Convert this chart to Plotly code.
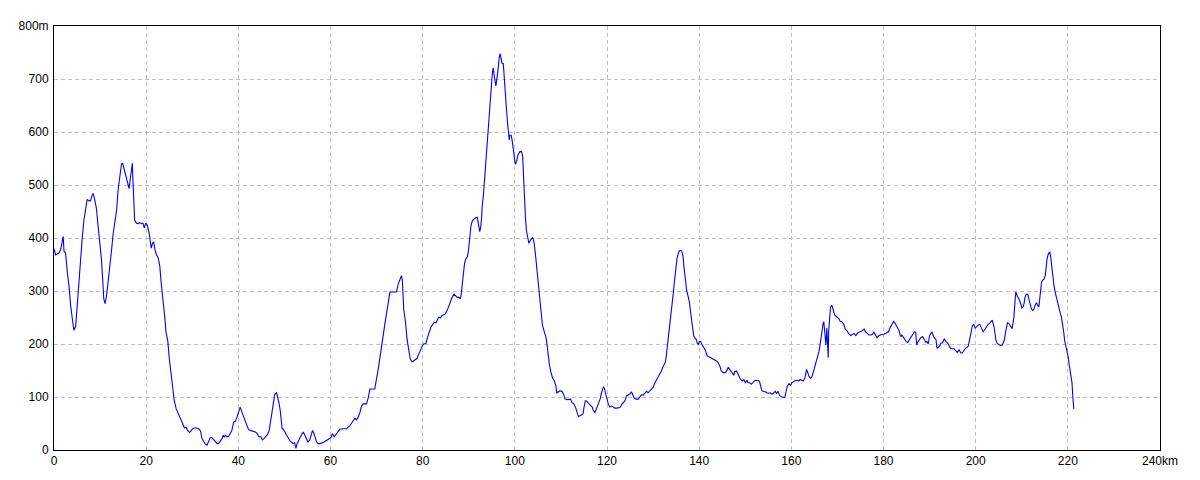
import plotly.graph_objects as go

distance_km = [
    0.0, 0.36, 1.1, 1.44, 1.8, 2.0, 2.17, 2.5, 2.9, 3.25, 3.6, 3.97, 4.3, 4.7, 5.05, 5.4, 5.8, 6.1, 6.5, 6.86,
    7.2, 7.6, 7.9, 8.3, 8.5, 8.8, 9.2, 9.5, 9.9, 10.3, 10.6, 10.8, 11.1, 11.4, 11.8, 12.1, 12.5, 12.85, 13.2, 13.6,
    13.9, 14.3, 14.65, 14.9, 15.3, 15.7, 16.0, 16.3, 16.5, 16.75, 17.0, 17.1, 17.3, 17.5, 17.9, 18.3, 18.6, 19.0, 19.3, 19.6,
    19.9, 20.2, 20.6, 20.8, 21.1, 21.4, 21.65, 21.9, 22.2, 22.6, 22.96, 23.25, 23.6, 24.0, 24.3, 24.7, 25.0, 25.4, 25.8, 26.1,
    26.5, 26.9, 27.2, 27.6, 27.9, 28.3, 28.7, 29.0, 29.4, 29.7, 30.1, 30.7, 31.4, 31.8, 32.1, 32.5, 32.85, 33.2, 33.5, 33.9,
    34.3, 34.7, 35.0, 35.4, 35.7, 36.1, 36.5, 36.7, 36.9, 37.2, 37.5, 37.9, 38.3, 38.6, 39.0, 39.35, 39.7, 40.1, 40.4, 40.8,
    41.2, 41.5, 41.9, 42.2, 42.6, 43.0, 43.3, 43.7, 44.1, 44.4, 44.9, 45.2, 45.6, 45.9, 46.3, 46.7, 47.0, 47.4, 47.7, 47.9,
    48.3, 48.5, 48.8, 49.1, 49.3, 49.5, 49.7, 50.1, 50.4, 50.8, 51.2, 51.5, 51.9, 52.2, 52.5, 52.75, 53.1, 53.5, 53.8, 54.1,
    54.4, 54.8, 55.1, 55.5, 55.9, 56.1, 56.4, 56.7, 57.0, 57.3, 57.7, 58.4, 59.1, 59.9, 60.2, 60.4, 60.8, 61.3, 61.7, 62.0,
    62.8, 63.5, 63.8, 64.2, 64.6, 64.9, 65.3, 65.65, 66.0, 66.4, 66.7, 67.1, 67.8, 68.2, 68.55, 69.6, 70.0, 70.4, 70.7, 71.1,
    71.4, 71.8, 72.2, 72.5, 72.9, 73.6, 74.3, 74.7, 75.0, 75.4, 75.6, 75.9, 76.3, 76.6, 77.0, 77.3, 77.7, 78.25, 78.8, 79.1,
    79.5, 79.85, 80.2, 80.7, 81.1, 81.45, 81.8, 82.2, 82.5, 82.9, 83.3, 83.5, 83.85, 84.2, 84.6, 84.9, 85.3, 85.7, 86.0, 86.4,
    86.8, 87.1, 87.5, 87.85, 88.2, 88.4, 88.6, 88.8, 89.1, 89.3, 89.7, 89.9, 90.0, 90.3, 90.5, 90.8, 91.1, 91.5, 91.85, 92.1,
    92.2, 92.4, 92.6, 92.8, 92.9, 93.2, 93.4, 93.6, 93.8, 94.0, 94.25, 94.5, 94.7, 94.9, 95.1, 95.3, 95.5, 95.7, 95.9, 96.1,
    96.4, 96.6, 96.8, 97.0, 97.2, 97.5, 97.7, 97.96, 98.2, 98.4, 98.6, 98.8, 98.9, 99.2, 99.4, 99.7, 100.1, 100.4, 100.7, 101.1,
    101.45, 101.7, 101.9, 102.1, 102.3, 102.5, 102.8, 103.05, 103.4, 103.7, 103.9, 104.2, 104.4, 104.6, 104.8, 105.0, 105.3, 105.5, 105.7, 106.0,
    106.4, 106.8, 107.0, 107.2, 107.5, 107.85, 108.2, 108.6, 108.9, 109.1, 109.7, 110.2, 110.6, 110.9, 111.5, 112.1, 112.4, 112.8, 113.2, 113.5,
    113.8, 114.3, 114.8, 115.0, 115.3, 115.6, 116.0, 116.4, 116.8, 117.0, 117.4, 117.8, 118.1, 118.5, 118.8, 119.2, 119.4, 119.7, 120.0, 120.3,
    120.6, 121.0, 121.4, 121.7, 122.1, 122.45, 122.8, 123.2, 123.5, 123.9, 124.25, 124.6, 125.0, 125.3, 125.55, 125.9, 126.3, 126.8, 127.1, 127.5,
    127.9, 128.2, 128.6, 128.9, 129.3, 129.7, 130.0, 130.4, 130.8, 131.1, 131.5, 131.8, 132.2, 132.6, 132.8, 133.0, 133.3, 133.5, 133.7, 133.9,
    134.2, 134.4, 134.6, 134.8, 135.0, 135.2, 135.45, 135.7, 136.2, 136.5, 136.7, 136.9, 137.1, 137.3, 137.6, 137.9, 138.1, 138.3, 138.6, 138.8,
    139.1, 139.35, 139.6, 139.8, 140.0, 140.3, 140.5, 140.8, 141.1, 141.4, 141.7, 142.1, 142.5, 143.0, 143.4, 143.75, 144.1, 144.5, 144.8, 145.2,
    145.6, 145.9, 146.3, 146.6, 147.0, 147.2, 147.5, 147.7, 148.1, 148.4, 148.7, 149.0, 149.4, 149.7, 150.0, 150.4, 150.6, 151.0, 151.3, 151.7,
    152.1, 152.4, 152.8, 153.1, 153.4, 153.6, 154.0, 154.4, 154.7, 155.1, 155.45, 155.8, 156.2, 156.5, 156.8, 157.1, 157.5, 157.8, 158.2, 158.6,
    158.85, 159.1, 159.5, 159.8, 160.1, 160.6, 160.9, 161.3, 161.6, 161.9, 162.2, 162.6, 162.95, 163.3, 163.5, 163.8, 164.2, 164.5, 164.8, 165.1,
    165.4, 165.7, 166.0, 166.3, 166.5, 166.7, 166.9, 167.05, 167.3, 167.5, 167.7, 167.8, 168.0, 168.1, 168.3, 168.5, 168.8, 169.1, 169.4, 169.9,
    170.3, 170.6, 171.0, 171.4, 171.7, 172.1, 172.4, 172.9, 173.2, 173.6, 174.0, 174.3, 174.7, 175.0, 175.4, 175.8, 176.1, 176.5, 176.8, 177.2,
    177.55, 177.9, 178.2, 178.6, 178.9, 179.3, 179.6, 180.0, 180.4, 180.7, 181.1, 181.4, 181.7, 182.0, 182.2, 182.5, 182.8, 183.1, 183.4, 183.6,
    183.8, 184.0, 184.2, 184.5, 184.9, 185.25, 185.6, 186.0, 186.3, 186.7, 187.0, 187.2, 187.4, 187.8, 188.1, 188.5, 188.85, 189.2, 189.4, 189.7,
    190.0, 190.3, 190.5, 190.7, 191.0, 191.4, 191.6, 191.9, 192.2, 192.45, 192.8, 193.2, 193.5, 193.9, 194.2, 194.6, 195.0, 195.3, 195.7, 196.0,
    196.4, 196.8, 197.1, 197.5, 197.8, 198.2, 198.4, 198.6, 198.8, 199.1, 199.3, 199.6, 199.9, 200.2, 200.6, 200.9, 201.2, 201.6, 201.9, 202.3,
    202.7, 203.0, 203.3, 203.6, 204.0, 204.2, 204.4, 204.7, 205.1, 205.4, 205.8, 206.2, 206.5, 206.7, 206.9, 207.2, 207.6, 207.9, 208.1, 208.3,
    208.5, 208.7, 209.0, 209.4, 209.8, 210.0, 210.3, 210.5, 210.7, 211.0, 211.3, 211.6, 211.8, 212.1, 212.4, 212.65, 212.9, 213.2, 213.4, 213.7,
    213.9, 214.1, 214.3, 214.6, 214.8, 215.1, 215.3, 215.5, 215.8, 216.1, 216.3, 216.5, 216.75, 217.0, 217.25, 217.5, 217.8, 218.0, 218.2, 218.4,
    218.6, 218.8, 219.1, 219.3, 219.6, 219.9, 220.1, 220.3, 220.5, 220.7, 220.9, 221.1, 221.3,
]

elevation_m = [
    380, 368, 372, 378, 394, 403, 375, 372, 335, 310, 273, 251, 226, 233, 276, 329, 372, 397, 434, 453,
    473, 470, 470, 481, 484, 474, 456, 428, 397, 360, 316, 285, 276, 291, 322, 353, 378, 409, 431, 453,
    490, 515, 540, 541, 527, 515, 499, 493, 508, 530, 541, 515, 465, 434, 428, 427, 429, 427, 428, 419,
    428, 425, 412, 397, 381, 391, 392, 378, 369, 363, 347, 316, 279, 254, 223, 205, 174, 143, 118, 93,
    78, 71, 65, 56, 50, 42, 43, 37, 33, 37, 40, 42, 40, 36, 22, 16, 11, 9, 16, 23,
    23, 19, 16, 12, 12, 16, 22, 28, 24, 28, 25, 26, 31, 37, 53, 54, 62, 71, 81, 71,
    62, 53, 43, 39, 37, 36, 34, 34, 31, 25, 25, 19, 22, 26, 29, 37, 56, 74, 93, 105,
    108, 102, 90, 74, 56, 40, 40, 34, 28, 22, 17, 15, 12, 14, 3, 12, 19, 25, 30, 34,
    29, 22, 15, 19, 34, 37, 31, 22, 15, 12, 12, 14, 17, 22, 25, 31, 25, 31, 35, 39,
    40, 40, 43, 46, 51, 56, 60, 57, 62, 71, 82, 87, 87, 99, 115, 115, 133, 155, 173, 192,
    214, 238, 260, 282, 298, 298, 298, 313, 322, 329, 319, 265, 240, 210, 188, 172, 166, 169, 173, 180,
    189, 195, 200, 201, 214, 223, 232, 237, 241, 240, 248, 251, 249, 254, 255, 257, 263, 272, 282, 288,
    294, 291, 288, 288, 285, 297, 316, 334, 353, 359, 365, 374, 384, 402, 424, 433, 436, 438, 439, 430,
    421, 412, 421, 439, 458, 483, 508, 538, 563, 591, 619, 644, 665, 690, 709, 721, 702, 696, 687, 699,
    721, 740, 748, 740, 730, 729, 699, 668, 641, 619, 594, 585, 594, 594, 585, 566, 539, 545, 557, 563,
    563, 554, 508, 464, 439, 415, 399, 390, 396, 399, 401, 390, 378, 359, 340, 322, 300, 279, 254, 235,
    223, 211, 198, 180, 161, 146, 136, 130, 121, 108, 111, 111, 105, 96, 95, 96, 90, 87, 80, 71,
    63, 65, 68, 80, 93, 92, 87, 84, 81, 75, 71, 80, 86, 96, 108, 119, 117, 106, 93, 86,
    81, 83, 81, 79, 79, 80, 80, 86, 89, 93, 102, 104, 106, 110, 105, 98, 96, 96, 100, 104,
    104, 108, 111, 108, 111, 114, 118, 127, 133, 137, 143, 149, 158, 164, 173, 188, 204, 222, 241, 260,
    278, 297, 315, 334, 349, 362, 370, 376, 376, 365, 346, 328, 312, 300, 290, 278, 263, 247, 226, 216,
    211, 209, 201, 199, 204, 205, 201, 195, 192, 187, 178, 176, 174, 173, 171, 168, 165, 158, 149, 146,
    146, 148, 156, 153, 148, 145, 141, 148, 149, 144, 136, 133, 130, 133, 127, 131, 127, 127, 124, 127,
    131, 131, 131, 129, 121, 112, 110, 110, 108, 107, 108, 105, 108, 111, 106, 111, 102, 100, 99, 100,
    108, 120, 125, 122, 127, 129, 131, 131, 130, 133, 131, 130, 136, 152, 148, 139, 135, 139, 148, 158,
    167, 179, 186, 202, 217, 233, 239, 242, 211, 198, 230, 202, 174, 223, 248, 270, 273, 264, 255, 251,
    248, 243, 242, 237, 228, 225, 220, 216, 218, 220, 216, 220, 222, 223, 225, 228, 223, 220, 217, 217,
    218, 222, 217, 212, 215, 217, 218, 218, 220, 220, 223, 230, 236, 242, 243, 239, 234, 230, 225, 217,
    214, 217, 214, 212, 205, 203, 208, 215, 220, 223, 222, 198, 203, 208, 212, 214, 208, 203, 205, 200,
    216, 220, 223, 218, 212, 208, 192, 194, 196, 202, 202, 210, 205, 202, 196, 191, 191, 191, 187, 184,
    189, 183, 183, 189, 192, 194, 196, 205, 217, 226, 235, 237, 230, 233, 236, 237, 231, 223, 226, 233,
    237, 239, 242, 245, 232, 220, 207, 201, 198, 197, 198, 207, 223, 232, 240, 239, 232, 229, 239, 251,
    276, 298, 291, 285, 276, 268, 270, 276, 288, 294, 294, 285, 274, 266, 263, 266, 273, 278, 274, 270,
    285, 310, 317, 321, 322, 329, 344, 361, 371, 373, 363, 344, 325, 310, 298, 288, 279, 270, 261, 257,
    251, 242, 223, 207, 195, 186, 175, 161, 148, 142, 127, 99, 77,
]

x_tick_values = [0, 20, 40, 60, 80, 100, 120, 140, 160, 180, 200, 220, 240]
x_tick_labels = ["0", "20", "40", "60", "80", "100", "120", "140", "160", "180", "200", "220", "240km"]
y_tick_values = [0, 100, 200, 300, 400, 500, 600, 700, 800]
y_tick_labels = ["0", "100", "200", "300", "400", "500", "600", "700", "800m"]

fig = go.Figure()
fig.add_trace(go.Scatter(
    x=distance_km, y=elevation_m, mode="lines",
    line=dict(color="#0000ff", width=1.1),
    hoverinfo="x+y", showlegend=False,
))

axis_common = dict(
    showline=True, linecolor="#000000", linewidth=1, mirror=True,
    showgrid=True, gridcolor="#c0c0c0", griddash="4px,3px", gridwidth=1,
    zeroline=False, ticks="", tickfont=dict(family="Liberation Sans, Arial, sans-serif", size=12, color="#000000"),
)

fig.update_xaxes(range=[0, 240], tickmode="array", tickvals=x_tick_values, ticktext=x_tick_labels,
                 ticklabelstandoff=0, **axis_common)
fig.update_yaxes(range=[0, 800], tickmode="array", tickvals=y_tick_values, ticktext=y_tick_labels,
                 ticklabelstandoff=2, **axis_common)

fig.update_layout(
    width=1192, height=472,
    margin=dict(l=42, r=40, t=11, b=30),
    paper_bgcolor="#ffffff", plot_bgcolor="#ffffff",
    font=dict(family="Liberation Sans, Arial, sans-serif", size=12, color="#000000"),
)

fig.write_html("out.html")
